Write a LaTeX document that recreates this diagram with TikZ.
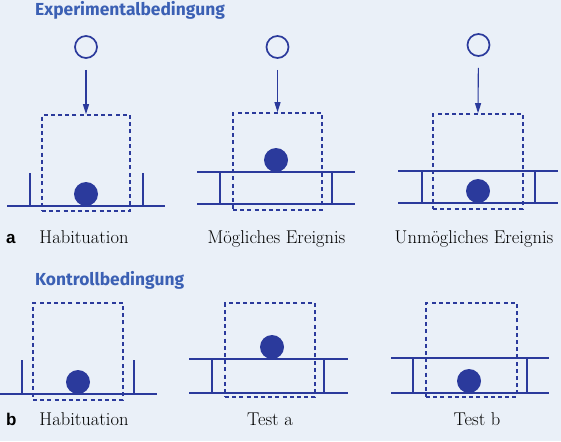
\documentclass[tikz,border=0pt]{standalone}
\usepackage{fontspec}
\newfontfamily\titlefont{Fira Sans}
\newfontfamily\letterfont{Liberation Sans}
\usetikzlibrary{arrows.meta}
\definecolor{bg}{HTML}{EAF0F8}
\definecolor{ink}{HTML}{2B3A9C}
\definecolor{ttl}{HTML}{3B60B4}
\begin{document}
\begin{tikzpicture}[x=1pt,y=-1pt,
  title/.style={text=ttl,font=\titlefont\bfseries\fontsize{17.4}{17.4}\selectfont,anchor=base west,inner sep=0pt},
  lbl/.style={text=black,font=\fontsize{18.5}{18.5}\selectfont,anchor=base,inner sep=0pt},
  letter/.style={text=black,font=\letterfont\bfseries\fontsize{17}{17}\selectfont,anchor=base west,inner sep=0pt},
  dbox/.style={draw=ink,line width=1.6pt,dash pattern=on 4pt off 3.2pt,rectangle,inner sep=0pt},
  obj/.style={draw=ink,line width=1.7pt,circle,minimum size=22pt,inner sep=0pt},
  ball/.style={fill=ink,circle,minimum size=24pt,inner sep=0pt},
  floor/.style={draw=ink,line width=2pt},
  leg/.style={draw=ink,line width=1.4pt},
  arr/.style={draw=ink,line width=1.1pt,-{Triangle[length=10pt,width=6pt]},shorten <=11pt}
]
\fill[bg] (0,0) rectangle (561,441);
\useasboundingbox (0,0) rectangle (561,441);

% titles
\node[title] (t1) at (35,15.5) {Experimentalbedingung};
\node[title] (t2) at (35,285) {Kontrollbedingung};

% ---------- row a ----------
% A1 habituation
\node[dbox,minimum width=88pt,minimum height=96pt] (ba1) at (86,163) {};
\node[obj] (oa1) at (86,47) {};
\draw[arr] (oa1) -- (ba1.north);
\coordinate (fa1l) at (7,206); \coordinate (fa1r) at (165,206);
\draw[floor] (fa1l) -- (fa1r);
\coordinate (wa1a) at (30,173); \coordinate (wa1b) at (30,206);
\coordinate (wa1c) at (143,173); \coordinate (wa1d) at (143,206);
\draw[leg] (wa1a) -- (wa1b) (wa1c) -- (wa1d);
\node[ball] (ka1) at (86,194) {};

% A2 possible
\node[dbox,minimum width=89pt,minimum height=97pt] (ba2) at (277.5,161.5) {};
\node[obj] (oa2) at (277.5,47) {};
\draw[arr] (oa2) -- (ba2.north);
\coordinate (ua2l) at (197,172); \coordinate (ua2r) at (355,172);
\coordinate (la2l) at (197,204); \coordinate (la2r) at (355,204);
\draw[floor] (ua2l) -- (ua2r) (la2l) -- (la2r);
\coordinate (ga2a) at (220,172); \coordinate (ga2b) at (220,204);
\coordinate (ga2c) at (332,172); \coordinate (ga2d) at (332,204);
\draw[leg] (ga2a) -- (ga2b) (ga2c) -- (ga2d);
\node[ball] (ka2) at (276,160) {};

% A3 impossible
\node[dbox,minimum width=90pt,minimum height=95pt] (ba3) at (478,161.5) {};
\node[obj] (oa3) at (478.5,45) {};
\draw[arr] (oa3) -- (ba3.north);
\coordinate (ua3l) at (398,171); \coordinate (ua3r) at (558,171);
\coordinate (la3l) at (398,203); \coordinate (la3r) at (558,203);
\draw[floor] (ua3l) -- (ua3r) (la3l) -- (la3r);
\coordinate (ga3a) at (422,171); \coordinate (ga3b) at (422,203);
\coordinate (ga3c) at (535,171); \coordinate (ga3d) at (535,203);
\draw[leg] (ga3a) -- (ga3b) (ga3c) -- (ga3d);
\node[ball] (ka3) at (478,191) {};

% labels a
\node[letter] (la) at (6,243) {a};
\node[lbl] (l1) at (84,243) {Habituation};
\node[lbl] (l2) at (276.5,243) {Mögliches Ereignis};
\node[lbl] (l3) at (474,243) {Unmögliches Ereignis};

% ---------- row b ----------
% B1 habituation
\node[dbox,minimum width=90pt,minimum height=97pt] (bb1) at (78,351.5) {};
\coordinate (fb1l) at (0,394); \coordinate (fb1r) at (157,394);
\draw[floor] (fb1l) -- (fb1r);
\coordinate (wb1a) at (22,360); \coordinate (wb1b) at (22,394);
\coordinate (wb1c) at (134,360); \coordinate (wb1d) at (134,394);
\draw[leg] (wb1a) -- (wb1b) (wb1c) -- (wb1d);
\node[ball] (kb1) at (78,382) {};

% B2 test a
\node[dbox,minimum width=90pt,minimum height=94pt] (bb2) at (270,350) {};
\coordinate (ub2l) at (189,359); \coordinate (ub2r) at (348,359);
\coordinate (lb2l) at (189,393); \coordinate (lb2r) at (348,393);
\draw[floor] (ub2l) -- (ub2r) (lb2l) -- (lb2r);
\coordinate (gb2a) at (212,359); \coordinate (gb2b) at (212,393);
\coordinate (gb2c) at (324,359); \coordinate (gb2d) at (324,393);
\draw[leg] (gb2a) -- (gb2b) (gb2c) -- (gb2d);
\node[ball] (kb2) at (272,347) {};

% B3 test b
\node[dbox,minimum width=91pt,minimum height=94pt] (bb3) at (471.5,350) {};
\coordinate (ub3l) at (391,358); \coordinate (ub3r) at (549,358);
\coordinate (lb3l) at (391,393); \coordinate (lb3r) at (549,393);
\draw[floor] (ub3l) -- (ub3r) (lb3l) -- (lb3r);
\coordinate (gb3a) at (413,358); \coordinate (gb3b) at (413,393);
\coordinate (gb3c) at (527,358); \coordinate (gb3d) at (527,393);
\draw[leg] (gb3a) -- (gb3b) (gb3c) -- (gb3d);
\node[ball] (kb3) at (469,381) {};

% labels b
\node[letter] (lb) at (6,425) {b};
\node[lbl] (l4) at (84,425) {Habituation};
\node[lbl] (l5) at (270,425) {Test a};
\node[lbl] (l6) at (477,425) {Test b};
\end{tikzpicture}
\end{document}
